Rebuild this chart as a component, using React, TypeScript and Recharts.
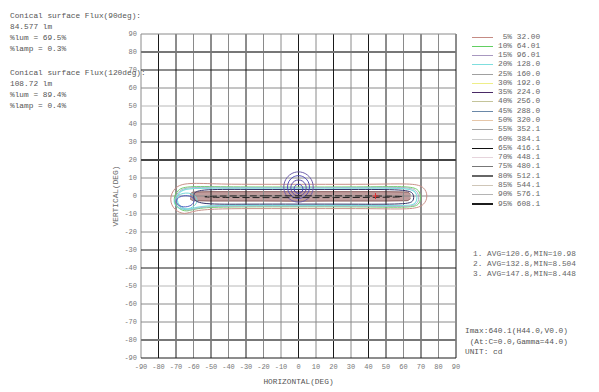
import React from 'react';
import { ComposedChart, Line, Area, Scatter, XAxis, YAxis, ReferenceLine } from 'recharts';

const AXIS_TICKS = [-90, -80, -70, -60, -50, -40, -30, -20, -10, 0, 10, 20, 30, 40, 50, 60, 70, 80, 90];

const LEVEL_PCT = ['5%', '10%', '15%', '20%', '25%', '30%', '35%', '40%', '45%', '50%', '55%', '60%', '65%', '70%', '75%', '80%', '85%', '90%', '95%'];
const LEVEL_CD = ['32.00', '64.01', '96.01', '128.0', '160.0', '192.0', '224.0', '256.0', '288.0', '320.0', '352.1', '384.1', '416.1', '448.1', '480.1', '512.1', '544.1', '576.1', '608.1'];

const FLUX_90 = ['Conical surface Flux(90deg):', '84.577 lm', '%lum = 69.5%', '%lamp = 0.3%'];
const FLUX_120 = ['Conical surface Flux(120deg):', '108.72 lm', '%lum = 89.4%', '%lamp = 0.4%'];
const AVG_LINES = ['1. AVG=120.6,MIN=10.98', '2. AVG=132.8,MIN=8.504', '3. AVG=147.8,MIN=8.448'];
const IMAX_LINES = ['Imax:640.1(H44.0,V0.0)', ' (At:C=0.0,Gamma=44.0)', 'UNIT: cd'];

// contour outlines, [H deg, V deg]
const C05 = [[-64, 7.5], [-45, 6.5], [-20, 6.5], [0, 6.5], [20, 6.5], [45, 6.5], [66, 7], [72, 5], [74, 0], [72, -5], [66, -7.5], [45, -7], [20, -7], [0, -7], [-20, -7], [-45, -7], [-60, -8], [-65, -10.5], [-71, -8], [-74, -2], [-71, 5]];
const C10 = [[-63, 5.5], [-40, 5], [0, 5], [40, 5], [64, 5.5], [69, 3.5], [70, -1], [69, -5], [64, -6.5], [40, -6], [0, -6], [-40, -6], [-58, -6.5], [-64, -9], [-69, -7], [-72, -2], [-69, 4]];
const C15 = [[-62, 5], [-40, 4.7], [0, 4.7], [40, 4.7], [63, 5], [68, 3], [69, -1], [68, -4.8], [63, -6], [40, -5.6], [0, -5.6], [-40, -5.6], [-57, -6], [-63, -8.5], [-68.5, -6.5], [-71, -2], [-68.5, 3.5]];
const C20 = [[-62, 4.5], [-40, 4.3], [0, 4.3], [40, 4.3], [63, 4.5], [67, 2.5], [68, -1], [67, -4.5], [63, -5.5], [40, -5.2], [0, -5.2], [-40, -5.2], [-57, -5.5], [-63, -8], [-68, -6], [-70, -2], [-68, 3]];
const C35 = [[-58, 3.8], [-30, 3.6], [0, 3.6], [30, 3.6], [62, 3.7], [66, 1.5], [66, -3], [62, -4.7], [30, -4.5], [0, -4.5], [-30, -4.5], [-56, -4.7], [-60, -2], [-60, 1]];
const C95 = [[-55, 0], [-20, 0.1], [20, 0.1], [60, 0], [62, -0.7], [20, -0.9], [-20, -0.9], [-55, -0.8]];
const HOLE_BLUE = [[-66, 0.5], [-61, 0], [-59, -2.5], [-61, -5.5], [-66, -6.5], [-70, -4.5], [-70, -1.5]];
const HOLE_CYAN = [[-66, 2], [-60, 1.5], [-57, -2.5], [-60, -6.5], [-66, -8], [-71, -5.5], [-71.5, -1]];
// core band [H, low V, high V]
const CORE = [[-62, -1.5, 1.0], [-60, -2.6, 2.2], [-50, -2.8, 2.4], [-20, -2.8, 2.4], [0, -2.9, 2.4], [20, -2.8, 2.4], [50, -2.8, 2.4], [62, -2.6, 2.2], [64, -1.5, 1.0]];
// blue rings near H0 V5
const RING1 = [[8.8, 5], [7.6, 9.4], [4.4, 12.6], [0, 13.8], [-4.4, 12.6], [-7.6, 9.4], [-8.8, 5], [-7.6, 0.6], [-4.4, -2.6], [0, -3.8], [4.4, -2.6], [7.6, 0.6]];
const RING2 = [[6.6, 5], [5.7, 8.3], [3.3, 10.7], [0, 11.6], [-3.3, 10.7], [-5.7, 8.3], [-6.6, 5], [-5.7, 1.7], [-3.3, -0.7], [0, -1.6], [3.3, -0.7], [5.7, 1.7]];
const RING3 = [[4.6, 4.5], [4, 6.8], [2.3, 8.5], [0, 9.1], [-2.3, 8.5], [-4, 6.8], [-4.6, 4.5], [-4, 2.2], [-2.3, 0.5], [0, -0.1], [2.3, 0.5], [4, 2.2]];
const RING4 = [[2.6, 4], [2.3, 5.3], [1.3, 6.3], [0, 6.6], [-1.3, 6.3], [-2.3, 5.3], [-2.6, 4], [-2.3, 2.7], [-1.3, 1.7], [0, 1.4], [1.3, 1.7], [2.3, 2.7]];
const IMAX_POINT = [[44, 0]];

const LEVEL_COLORS = ['#c58b84', '#62cf62', '#a898c0', '#7fdede', '#a0a0a0', '#eeee88', '#4a2a66', '#c4c49a', '#6a88a8', '#e6c6a8', '#a4a4a4', '#c8c8c8', '#111111', '#e6d4dc', '#777777', '#666666', '#cfc6b8', '#b4b4b4', '#1c1c1c'];
const LEVEL_WIDTH = [1, 1, 1, 1, 1, 1, 1, 1, 1, 1, 1, 1, 1.2, 1, 1, 2, 1, 1, 1.2];

const GRID_V = ['g', 'k', 'k', 'g', 'k', 'g', 'k', 'g', 'g', 'k', 'g', 'k', 'g', 'k', 'k', 'g', 'k', 'g', 'k'];
const GRID_H = ['k', 'T', 'g', 'g', 'l', 'k', 'k', 'g', 'g', 'g', 'g', 'D', 'k', 'g', 'l', 'g', 'k', 'T', 'g'];
const GRID_STYLE: Record<string, { stroke: string; w: number }> = {
  k: { stroke: '#1a1a1a', w: 1 },
  g: { stroke: '#8a8a8a', w: 1 },
  l: { stroke: '#b8b8b8', w: 1 },
  T: { stroke: '#777777', w: 2 },
  D: { stroke: '#444444', w: 2 },
};

const toPts = (arr: number[][]) => arr.map(([h, v]) => ({ h, v }));

const CONTOURS = [
  { pts: C05, color: '#c99088', w: 1 },
  { pts: C10, color: '#6cd06c', w: 1 },
  { pts: C15, color: '#b4a8c6', w: 1 },
  { pts: C20, color: '#80dede', w: 1.2 },
  { pts: HOLE_CYAN, color: '#72d8d8', w: 1 },
  { pts: HOLE_BLUE, color: '#5060c0', w: 1 },
  { pts: C35, color: '#34346a', w: 1 },
  { pts: RING1, color: '#6e5eaa', w: 1 },
  { pts: RING2, color: '#5650ba', w: 1 },
  { pts: RING3, color: '#5e4eaa', w: 1 },
  { pts: RING4, color: '#4040b8', w: 1 },
];

const FONT = '"Liberation Mono", "DejaVu Sans Mono", monospace';
const textStyle: React.CSSProperties = {
  position: 'absolute',
  fontFamily: FONT,
  fontSize: 7.8,
  lineHeight: '10px',
  color: '#555',
  whiteSpace: 'pre',
};

const TextLines: React.FC<{ lines: string[]; left: number; top: number; step: number; color?: string }> = ({ lines, left, top, step, color }) => (
  <>
    {lines.map((s, i) => (
      <div key={i} style={{ ...textStyle, left, top: top + i * step, color: color || '#555' }}>
        {s}
      </div>
    ))}
  </>
);

const ImaxMark = (props: any) => {
  const { cx, cy } = props;
  return <path d={`M${cx - 3},${cy}h6M${cx},${cy - 3}v6`} stroke="#e03030" strokeWidth={1} fill="none" />;
};

const App: React.FC = () => {
  const core = CORE.map(([h, lo, hi]) => ({ h, range: [lo, hi] }));
  return (
    <div style={{ position: 'absolute', left: 0, top: 0, width: 599, height: 392, background: '#fff' }}>
      <ComposedChart width={599} height={392} margin={{ top: 34, right: 143, bottom: 0, left: 0 }}>
        <XAxis
          type="number"
          dataKey="h"
          domain={[-90, 90]}
          ticks={AXIS_TICKS}
          allowDataOverflow
          height={34}
          tickSize={0}
          tickMargin={6}
          axisLine={false}
          tick={{ fontSize: 7, fill: '#777', fontFamily: FONT }}
          label={{ value: 'HORIZONTAL(DEG)', position: 'insideBottom', offset: 8, fontSize: 7.8, fill: '#555', fontFamily: FONT }}
        />
        <YAxis
          type="number"
          dataKey="v"
          domain={[-90, 90]}
          ticks={AXIS_TICKS}
          allowDataOverflow
          width={141}
          tickSize={0}
          tickMargin={4}
          axisLine={false}
          tick={{ fontSize: 7, fill: '#777', fontFamily: FONT }}
        />
        {AXIS_TICKS.map((t, i) => (
          <ReferenceLine key={`v${t}`} x={t} stroke={GRID_STYLE[GRID_V[i]].stroke} strokeWidth={GRID_STYLE[GRID_V[i]].w} />
        ))}
        {AXIS_TICKS.map((t, i) => (
          <ReferenceLine key={`h${t}`} y={t} stroke={GRID_STYLE[GRID_H[i]].stroke} strokeWidth={GRID_STYLE[GRID_H[i]].w} />
        ))}
        <Area
          data={core}
          dataKey="range"
          type="monotone"
          stroke="#8c5e5e"
          strokeWidth={1}
          fill="#b08484"
          fillOpacity={0.8}
          isAnimationActive={false}
        />
        {CONTOURS.map((c, i) => (
          <Line
            key={i}
            data={toPts(c.pts)}
            dataKey="v"
            type="basisClosed"
            stroke={c.color}
            strokeWidth={c.w}
            dot={false}
            activeDot={false}
            isAnimationActive={false}
          />
        ))}
        <Line
          data={toPts(C95)}
          dataKey="v"
          type="basisClosed"
          stroke="#222"
          strokeWidth={1}
          strokeDasharray="7 3"
          dot={false}
          activeDot={false}
          isAnimationActive={false}
        />
        <Scatter data={toPts(IMAX_POINT)} dataKey="v" shape={ImaxMark} isAnimationActive={false} />
      </ComposedChart>

      <TextLines lines={FLUX_90} left={10} top={11} step={11} />
      <TextLines lines={FLUX_120} left={10} top={68} step={11} />

      <div
        style={{
          ...textStyle,
          left: 116,
          top: 196,
          transform: 'translate(-50%, -50%) rotate(-90deg)',
          color: '#666',
        }}
      >
        VERTICAL(DEG)
      </div>

      {LEVEL_PCT.map((p, i) => (
        <div key={p} style={{ position: 'absolute', left: 472, top: 32 + i * 9.28, height: 10, width: 120 }}>
          <div
            style={{
              position: 'absolute',
              left: 0,
              top: 5 - LEVEL_WIDTH[i] / 2,
              width: 21,
              height: LEVEL_WIDTH[i],
              background: LEVEL_COLORS[i],
            }}
          />
          <div style={{ ...textStyle, left: 26, top: -0.5, color: '#666' }}>
            {p.padStart(3, ' ') + ' ' + LEVEL_CD[i]}
          </div>
        </div>
      ))}

      <TextLines lines={AVG_LINES} left={473} top={249} step={10} color="#666" />
      <TextLines lines={IMAX_LINES} left={465} top={326} step={10.5} />
    </div>
  );
};

export default App;
